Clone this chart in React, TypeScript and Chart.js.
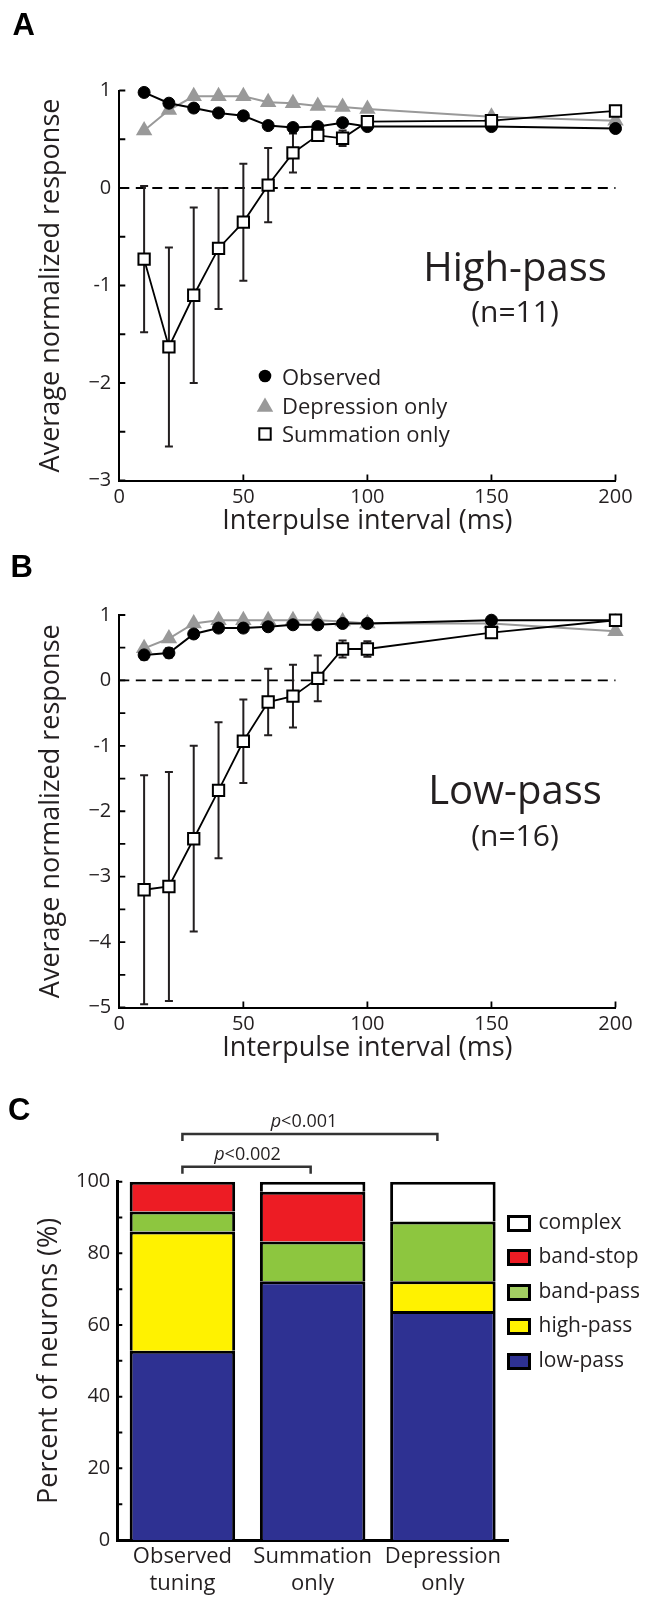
import React, { useEffect, useRef } from 'react';
import { Chart, registerables } from 'chart.js';

Chart.register(...registerables);

const FONT = "'Open Sans', 'Noto Sans', sans-serif";
const LETTER_FONT = "'Liberation Sans', Arial, sans-serif";
const TEXT = '#231f20';
const GRAY = '#999999';

// ---------- Panels A & B: shared x values ----------
const intervals = [10, 20, 30, 40, 50, 60, 70, 80, 90, 100, 150, 200];
const xTickValues = [0, 50, 100, 150, 200];
const xTickLabels = ['0', '50', '100', '150', '200'];
const seriesNames = ['Observed', 'Depression only', 'Summation only'];

// ---------- Panel A: High-pass ----------
const hpObserved = [0.98, 0.87, 0.82, 0.77, 0.74, 0.64, 0.62, 0.63, 0.67, 0.63, 0.63, 0.61];
const hpObservedErr = [0, 0, 0, 0, 0, 0, 0, 0, 0, 0, 0, 0];
const hpDepression = [0.59, 0.8, 0.94, 0.94, 0.94, 0.88, 0.87, 0.84, 0.83, 0.81, 0.73, 0.69];
const hpSummation = [-0.73, -1.63, -1.1, -0.62, -0.35, 0.03, 0.36, 0.54, 0.51, 0.68, 0.69, 0.79];
const hpSummationErr = [0.75, 1.02, 0.9, 0.62, 0.6, 0.38, 0.2, 0.05, 0.08, 0.04, 0.03, 0.03];
const hpYTickValues = [1, 0, -1, -2, -3];
const hpYTickLabels = ['1', '0', '-1', '\u22122', '\u22123'];

// ---------- Panel B: Low-pass ----------
const lpObserved = [0.39, 0.42, 0.71, 0.8, 0.8, 0.82, 0.85, 0.85, 0.87, 0.87, 0.92, 0.92];
const lpObservedErr = [0.07, 0.07, 0.03, 0.02, 0.02, 0.02, 0.02, 0.02, 0.02, 0.02, 0.02, 0.02];
const lpDepression = [0.49, 0.64, 0.87, 0.92, 0.92, 0.92, 0.92, 0.92, 0.9, 0.87, 0.87, 0.75];
const lpSummation = [-3.2, -3.15, -2.42, -1.68, -0.93, -0.33, -0.24, 0.03, 0.48, 0.48, 0.73, 0.92];
const lpSummationErr = [1.75, 1.75, 1.42, 1.04, 0.64, 0.51, 0.48, 0.35, 0.13, 0.12, 0.03, 0.03];
const lpYTickValues = [1, 0, -1, -2, -3, -4, -5];
const lpYTickLabels = ['1', '0', '-1', '\u22122', '\u22123', '\u22124', '\u22125'];

// ---------- Panel C: tuning classes ----------
const tuningCategories = [['Observed', 'tuning'], ['Summation', 'only'], ['Depression', 'only']];
const tuningTypes = ['low-pass', 'high-pass', 'band-pass', 'band-stop', 'complex'];
const tuningColors = ['#2E3192', '#FFF200', '#8DC63F', '#ED1C24', '#FFFFFF'];
const legendColors = ['#2E3192', '#FFF200', '#A3CF62', '#ED1C24', '#FFFFFF'];
const lowPass = [52.8, 72.2, 63.9];
const highPass = [33.3, 0, 8.3];
const bandPass = [5.6, 11.1, 16.7];
const bandStop = [8.3, 13.9, 0];
const complexT = [0, 2.8, 11.1];
const cYTickValues = [0, 20, 40, 60, 80, 100];
const cYTickLabels = ['0', '20', '40', '60', '80', '100'];
const comparisons = [
  { from: 0, to: 1, label: '<0.002' },
  { from: 0, to: 2, label: '<0.001' },
];

function drawInwardTicks(chart: any, len: number, lw: number, withX: boolean) {
  const { ctx, chartArea, scales } = chart;
  ctx.save();
  ctx.strokeStyle = '#000';
  ctx.lineWidth = lw;
  ctx.beginPath();
  scales.y.ticks.forEach((t: any) => {
    const py = scales.y.getPixelForValue(t.value);
    ctx.moveTo(chartArea.left, py);
    ctx.lineTo(chartArea.left + len, py);
  });
  if (withX) {
    scales.x.ticks.forEach((t: any) => {
      if (t.value === scales.x.min) return;
      const px = scales.x.getPixelForValue(t.value);
      ctx.moveTo(px, chartArea.bottom);
      ctx.lineTo(px, chartArea.bottom - len);
    });
  }
  ctx.stroke();
  ctx.restore();
}

type LinePanel = {
  observed: number[];
  observedErr: number[];
  depression: number[];
  summation: number[];
  summationErr: number[];
  yMin: number;
  yTickValues: number[];
  yTickLabels: string[];
  height: number;
  areaTop: number;
  areaBottom: number;
  titlePad: number;
  legend: boolean;
};

const AREA_LEFT = 119.3;
const AREA_RIGHT = 615.5;

function makeLineConfig(p: LinePanel) {
  const pts = (ys: number[]) => intervals.map((x, i) => ({ x, y: ys[i] }));
  const yTicks: number[] = [];
  for (let v = 1; v >= p.yMin - 1e-9; v -= 0.5) yTicks.push(Math.round(v * 2) / 2);
  const errorSets = [
    { values: p.summation, err: p.summationErr },
    { values: p.observed, err: p.observedErr },
  ];
  const extras = {
    id: 'extras',
    beforeDatasetsDraw(chart: any) {
      const { ctx, scales } = chart;
      const x = scales.x;
      const y = scales.y;
      ctx.save();
      ctx.strokeStyle = '#000';
      ctx.lineWidth = 1.8;
      ctx.setLineDash([10, 6.5]);
      const y0 = y.getPixelForValue(0);
      ctx.beginPath();
      ctx.moveTo(x.getPixelForValue(0), y0);
      ctx.lineTo(x.getPixelForValue(200), y0);
      ctx.stroke();
      ctx.setLineDash([]);
      ctx.strokeStyle = TEXT;
      ctx.lineWidth = 2;
      errorSets.forEach((s) =>
        s.err.forEach((e, i) => {
          if (!e) return;
          const px = x.getPixelForValue(intervals[i]);
          const top = y.getPixelForValue(s.values[i] + e);
          const bot = y.getPixelForValue(s.values[i] - e);
          ctx.beginPath();
          ctx.moveTo(px, top);
          ctx.lineTo(px, bot);
          ctx.moveTo(px - 4, top);
          ctx.lineTo(px + 4, top);
          ctx.moveTo(px - 4, bot);
          ctx.lineTo(px + 4, bot);
          ctx.stroke();
        })
      );
      ctx.restore();
    },
    afterDraw(chart: any) {
      drawInwardTicks(chart, 6, 1.8, true);
      if (p.legend) {
        const { ctx } = chart;
        const lx = 265;
        ctx.save();
        ctx.fillStyle = '#000';
        ctx.beginPath();
        ctx.arc(lx, 376, 6.3, 0, Math.PI * 2);
        ctx.fill();
        const r = 9.5;
        const ty = 407;
        ctx.fillStyle = GRAY;
        ctx.beginPath();
        ctx.moveTo(lx, ty - r);
        ctx.lineTo(lx + r * Math.sin((2 * Math.PI) / 3), ty + r / 2);
        ctx.lineTo(lx - r * Math.sin((2 * Math.PI) / 3), ty + r / 2);
        ctx.closePath();
        ctx.fill();
        ctx.fillStyle = '#fff';
        ctx.strokeStyle = '#000';
        ctx.lineWidth = 2;
        ctx.fillRect(lx - 5.7, 434 - 5.7, 11.4, 11.4);
        ctx.strokeRect(lx - 5.7, 434 - 5.7, 11.4, 11.4);
        ctx.restore();
      }
    },
  };

  const tickFont = { family: FONT, size: 20, lineHeight: 1 };
  const titleFont = { family: FONT, size: 27, lineHeight: 1 };
  const zeroPad = (s: any) => {
    s.paddingLeft = 0;
    s.paddingRight = 0;
    s.paddingTop = 0;
    s.paddingBottom = 0;
  };

  return {
    type: 'line',
    data: {
      datasets: [
        {
          label: seriesNames[2],
          data: pts(p.summation),
          borderColor: '#000',
          borderWidth: 1.8,
          pointStyle: 'rect',
          pointRadius: 8,
          pointBackgroundColor: '#fff',
          pointBorderColor: '#000',
          pointBorderWidth: 2,
          order: 0,
          clip: false,
        },
        {
          label: seriesNames[0],
          data: pts(p.observed),
          borderColor: '#000',
          borderWidth: 2,
          pointStyle: 'circle',
          pointRadius: 6,
          pointBackgroundColor: '#000',
          pointBorderColor: '#000',
          pointBorderWidth: 1,
          order: 1,
          clip: false,
        },
        {
          label: seriesNames[1],
          data: pts(p.depression),
          borderColor: GRAY,
          borderWidth: 2,
          pointStyle: 'triangle',
          pointRadius: 9.5,
          pointBackgroundColor: GRAY,
          pointBorderColor: GRAY,
          pointBorderWidth: 0,
          order: 2,
          clip: false,
        },
      ],
    },
    options: {
      animation: false,
      responsive: false,
      maintainAspectRatio: false,
      devicePixelRatio: 1,
      events: [],
      layout: { padding: { top: p.areaTop, right: 649 - AREA_RIGHT, left: 0, bottom: 0 } },
      plugins: { legend: { display: false }, tooltip: { enabled: false } },
      elements: { line: { tension: 0 } },
      scales: {
        x: {
          type: 'linear',
          min: 0,
          max: 200,
          afterBuildTicks: (s: any) => {
            s.ticks = xTickValues.map((v) => ({ value: v }));
          },
          ticks: {
            font: tickFont,
            color: TEXT,
            padding: 7,
            maxRotation: 0,
            autoSkip: false,
            callback: (v: number) => {
              const i = xTickValues.indexOf(v);
              return i >= 0 ? xTickLabels[i] : '';
            },
          },
          grid: { display: false, drawTicks: false },
          border: { display: true, color: '#000', width: 2 },
          title: {
            display: true,
            text: 'Interpulse interval (ms)',
            font: titleFont,
            color: TEXT,
            padding: { top: 0, bottom: p.titlePad },
          },
          afterFit: (s: any) => {
            s.height = p.height - p.areaBottom;
            zeroPad(s);
          },
        },
        y: {
          type: 'linear',
          min: p.yMin,
          max: 1,
          afterBuildTicks: (s: any) => {
            s.ticks = yTicks.map((v) => ({ value: v }));
          },
          ticks: {
            font: tickFont,
            color: TEXT,
            padding: 8,
            autoSkip: false,
            callback: (v: number) => {
              const i = p.yTickValues.indexOf(v);
              return i >= 0 ? p.yTickLabels[i] : '';
            },
          },
          grid: { display: false, drawTicks: false },
          border: { display: true, color: '#000', width: 2 },
          title: {
            display: true,
            text: 'Average normalized response',
            font: titleFont,
            color: TEXT,
            padding: { top: 37.5, bottom: 0 },
          },
          afterFit: (s: any) => {
            s.width = AREA_LEFT;
            zeroPad(s);
          },
        },
      },
    },
    plugins: [extras],
  };
}

const C_HEIGHT = 533;
const C_TOP = 1065;

function makeBarConfig() {
  const series = [lowPass, highPass, bandPass, bandStop, complexT];
  const cTicks: number[] = [];
  for (let v = 0; v <= 100; v += 10) cTicks.push(v);
  const brackets = {
    id: 'brackets',
    afterDraw(chart: any) {
      drawInwardTicks(chart, 5, 2, false);
      const { ctx, scales } = chart;
      const x = scales.x;
      const levels = [101.7, 69];
      const rightTrim = [2, 5.5];
      ctx.save();
      ctx.strokeStyle = '#333';
      ctx.lineWidth = 2.5;
      comparisons.forEach((c, k) => {
        const x1 = x.getPixelForValue(c.from);
        const x2 = x.getPixelForValue(c.to) - rightTrim[k];
        const yy = levels[k];
        ctx.beginPath();
        ctx.moveTo(x1, yy + 7);
        ctx.lineTo(x1, yy);
        ctx.lineTo(x2, yy);
        ctx.lineTo(x2, yy + 7);
        ctx.stroke();
      });
      ctx.restore();
    },
  };
  const zeroPad = (s: any) => {
    s.paddingLeft = 0;
    s.paddingRight = 0;
    s.paddingTop = 0;
    s.paddingBottom = 0;
  };
  return {
    type: 'bar',
    data: {
      labels: tuningCategories,
      datasets: series.map((d, i) => ({
        label: tuningTypes[i],
        data: d.map((v) => (v === 0 ? null : v)),
        backgroundColor: tuningColors[i],
        borderColor: '#000',
        borderWidth: 3,
        barPercentage: 0.81,
        categoryPercentage: 1,
      })),
    },
    options: {
      animation: false,
      responsive: false,
      maintainAspectRatio: false,
      devicePixelRatio: 1,
      events: [],
      layout: { padding: { top: 116.7, right: 649 - 508, left: 0, bottom: 0 } },
      plugins: { legend: { display: false }, tooltip: { enabled: false } },
      scales: {
        x: {
          type: 'category',
          stacked: true,
          ticks: {
            font: { family: FONT, size: 22, lineHeight: 27 / 22 },
            color: TEXT,
            padding: 2.75,
            maxRotation: 0,
            autoSkip: false,
          },
          grid: { display: false, drawTicks: false },
          border: { display: true, color: '#000', width: 3 },
          afterFit: (s: any) => {
            s.height = C_HEIGHT - 475;
            zeroPad(s);
          },
        },
        y: {
          type: 'linear',
          stacked: true,
          min: 0,
          max: 100,
          afterBuildTicks: (s: any) => {
            s.ticks = cTicks.map((v) => ({ value: v }));
          },
          ticks: {
            font: { family: FONT, size: 20, lineHeight: 1 },
            color: TEXT,
            padding: 7,
            autoSkip: false,
            callback: (v: number) => {
              const i = cYTickValues.indexOf(v);
              return i >= 0 ? cYTickLabels[i] : '';
            },
          },
          grid: { display: false, drawTicks: false },
          border: { display: true, color: '#000', width: 3 },
          title: {
            display: true,
            text: 'Percent of neurons (%)',
            font: { family: FONT, size: 27, lineHeight: 1 },
            color: TEXT,
            padding: { top: 36, bottom: 0 },
          },
          afterFit: (s: any) => {
            s.width = 117.3;
            zeroPad(s);
          },
        },
      },
    },
    plugins: [brackets],
  };
}

function ChartCanvas({ top, height, make }: { top: number; height: number; make: () => any }) {
  const ref = useRef<HTMLCanvasElement>(null);
  useEffect(() => {
    const chart = new Chart(ref.current as HTMLCanvasElement, make());
    let alive = true;
    if ((document as any).fonts && (document as any).fonts.ready) {
      (document as any).fonts.ready.then(() => {
        if (alive) chart.update();
      });
    }
    return () => {
      alive = false;
      chart.destroy();
    };
  }, []);
  return (
    <canvas
      ref={ref}
      width={649}
      height={height}
      style={{ position: 'absolute', left: 0, top, width: 649, height, display: 'block' }}
    />
  );
}

function Txt({
  x,
  base,
  size,
  children,
  center = false,
  family = FONT,
  weight = 400,
}: {
  x: number;
  base: number;
  size: number;
  children: any;
  center?: boolean;
  family?: string;
  weight?: number;
}) {
  const w = 300;
  return (
    <div
      style={{
        position: 'absolute',
        left: center ? x - w / 2 : x,
        top: base - 0.888 * size,
        width: center ? w : undefined,
        textAlign: center ? 'center' : 'left',
        fontFamily: family,
        fontSize: size,
        lineHeight: `${size}px`,
        fontWeight: weight,
        color: TEXT,
        whiteSpace: 'nowrap',
      }}
    >
      {children}
    </div>
  );
}

function Letter({ x, top, children }: { x: number; top: number; children: any }) {
  return (
    <div
      style={{
        position: 'absolute',
        left: x,
        top,
        fontFamily: LETTER_FONT,
        fontWeight: 700,
        fontSize: 31,
        lineHeight: '31px',
        color: '#000',
      }}
    >
      {children}
    </div>
  );
}

const panelA: LinePanel = {
  observed: hpObserved,
  observedErr: hpObservedErr,
  depression: hpDepression,
  summation: hpSummation,
  summationErr: hpSummationErr,
  yMin: -3,
  yTickValues: hpYTickValues,
  yTickLabels: hpYTickLabels,
  height: 535,
  areaTop: 90.5,
  areaBottom: 480.5,
  titlePad: 0.5,
  legend: true,
};

const panelB: LinePanel = {
  observed: lpObserved,
  observedErr: lpObservedErr,
  depression: lpDepression,
  summation: lpSummation,
  summationErr: lpSummationErr,
  yMin: -5,
  yTickValues: lpYTickValues,
  yTickLabels: lpYTickLabels,
  height: 530,
  areaTop: 80,
  areaBottom: 472.5,
  titlePad: 3.5,
  legend: false,
};

const legendARows = [385, 413.3, 441.7];
const legendCOrder = [4, 3, 2, 1, 0];
const legendCCenters = [1223, 1257.5, 1292, 1326.5, 1361];
const pLabelPos = [
  { x: 247.5, base: 1160 },
  { x: 304, base: 1126.7 },
];

export default function App() {
  return (
    <div
      style={{
        position: 'absolute',
        left: 0,
        top: 0,
        width: 649,
        height: 1598,
        background: '#fff',
        overflow: 'hidden',
      }}
    >
      <ChartCanvas top={0} height={535} make={() => makeLineConfig(panelA)} />
      <ChartCanvas top={535} height={530} make={() => makeLineConfig(panelB)} />
      <ChartCanvas top={C_TOP} height={C_HEIGHT} make={makeBarConfig} />

      <Letter x={12.5} top={8.5}>A</Letter>
      <Letter x={10.5} top={550.5}>B</Letter>
      <Letter x={8} top={1093.5}>C</Letter>

      <Txt x={515} base={281.7} size={40} center>High-pass</Txt>
      <Txt x={515} base={323} size={30} center>(n=11)</Txt>
      <Txt x={515} base={805} size={40} center>Low-pass</Txt>
      <Txt x={515} base={846.7} size={30} center>(n=16)</Txt>

      {seriesNames.map((n, i) => (
        <Txt key={n} x={282} base={legendARows[i]} size={22}>
          {n}
        </Txt>
      ))}

      {comparisons.map((c, i) => (
        <Txt key={c.label} x={pLabelPos[i].x} base={pLabelPos[i].base} size={18} center>
          <i>p</i>
          {c.label}
        </Txt>
      ))}

      {legendCOrder.map((k, row) => (
        <React.Fragment key={tuningTypes[k]}>
          <div
            style={{
              position: 'absolute',
              left: 507,
              top: legendCCenters[row] - 8.5,
              width: 24,
              height: 17,
              boxSizing: 'border-box',
              border: '3px solid #000',
              background: legendColors[k],
            }}
          />
          <Txt x={538.5} base={legendCCenters[row] + 6.5} size={21}>
            {tuningTypes[k]}
          </Txt>
        </React.Fragment>
      ))}
    </div>
  );
}
